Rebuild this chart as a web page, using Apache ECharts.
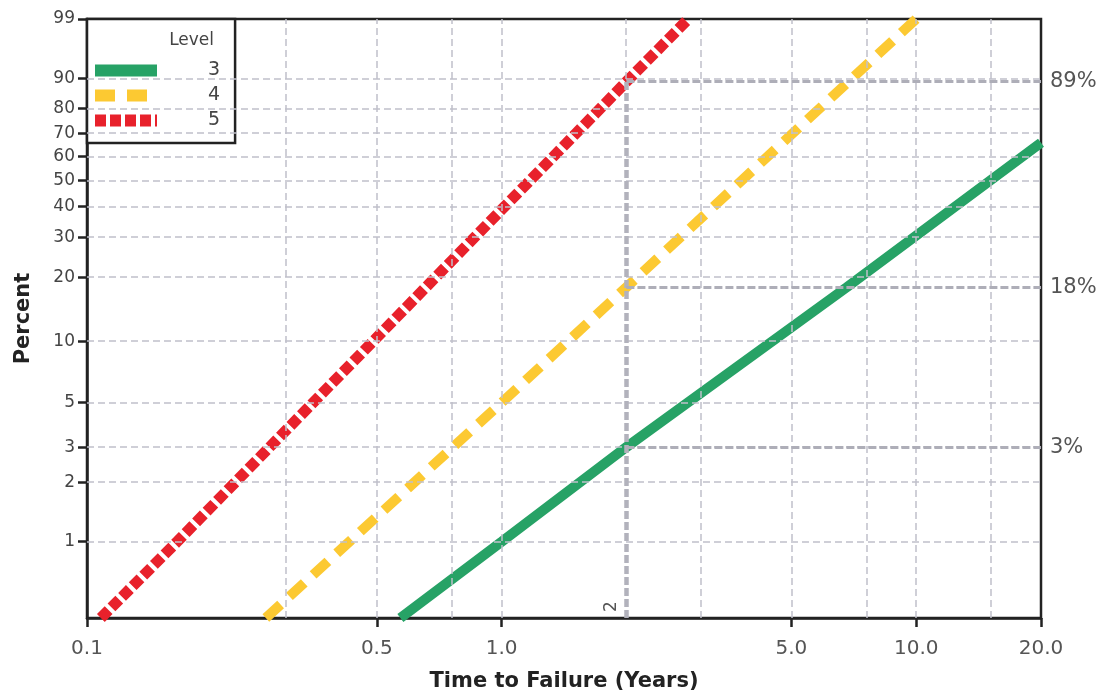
<!DOCTYPE html>
<html>
<head>
<meta charset="utf-8">
<title>Time to Failure by Level</title>
<script src="https://cdn.jsdelivr.net/npm/echarts@6/dist/echarts.min.js"></script>
<style>
  html, body { margin: 0; padding: 0; background: #ffffff; }
  #chart { width: 1108px; height: 692px; }
</style>
</head>
<body>
<div id="chart"></div>
<script>
// Weibull probability plot: failure percent vs. time to failure (years)
const levels = ['3', '4', '5'];
const levelColors = ['#27a266', '#fcc932', '#e8212b'];

const level3Time = [0.57, 1.0, 2.0, 6.8, 20.0];
const level3Pct  = [0.41, 1.0, 3.0, 18.0, 66.0];
const level4Time = [0.27, 1.0, 2.0, 10.0];
const level4Pct  = [0.41, 5.0, 18.0, 99.0];
const level5Time = [0.108, 0.165, 0.49, 2.0, 2.82];
const level5Pct  = [0.41, 1.0, 10.0, 89.0, 99.0];

const xTickTimes  = [0.1, 0.5, 1, 5, 10, 20];
const xTickLabels = ['0.1', '0.5', '1.0', '5.0', '10.0', '20.0'];
const xGridTimes  = [0.3, 0.5, 0.75, 1, 2, 3, 5, 7.5, 10, 15];
const yTickPct    = [1, 2, 3, 5, 10, 20, 30, 40, 50, 60, 70, 80, 90, 99];
const yGridPct    = [1, 2, 3, 5, 10, 20, 30, 40, 50, 60, 70, 80, 90];
const xMin = 0.1, xMax = 20;
const yMinPct = 0.41, yMaxPct = 99;

const refTime = 2;
const refPct = [89, 18, 3];
const refLabels = ['89%', '18%', '3%'];

// Axis transforms: log10 for time, Weibull (ln(-ln(1-F))) for percent
const lx = t => Math.log10(t);
const wy = p => Math.log(-Math.log(1 - p / 100));

function nearestLabel(v, values, labels) {
  let best = 0;
  for (let i = 1; i < values.length; i++) {
    if (Math.abs(values[i] - v) < Math.abs(values[best] - v)) best = i;
  }
  return labels[best];
}

const xTickVals = xTickTimes.map(lx);
const yTickVals = yTickPct.map(wy);
const yTickText = yTickPct.map(String);

const seriesTimes = [level3Time, level4Time, level5Time];
const seriesPcts = [level3Pct, level4Pct, level5Pct];
const lineStyles = [
  { width: 10, type: 'solid' },
  { width: 10, type: [20, 12] },
  { width: 11, type: [11, 4] }
];

const dataSeries = levels.map((name, i) => ({
  name: name,
  type: 'line',
  symbol: 'none',
  showSymbol: false,
  z: 3,
  data: seriesTimes[i].map((t, k) => [lx(t), wy(seriesPcts[i][k])]),
  lineStyle: { color: levelColors[i], width: lineStyles[i].width, type: lineStyles[i].type, cap: 'butt' },
  itemStyle: { color: levelColors[i] }
}));

const gridLineStyle = { color: '#c0c0ca', width: 1.5, type: [7, 4] };

const gridSeries = {
  type: 'line',
  data: [],
  silent: true,
  z: 1,
  markLine: {
    silent: true,
    symbol: ['none', 'none'],
    animation: false,
    label: { show: false },
    lineStyle: gridLineStyle,
    data: xGridTimes.map(t => ({ xAxis: lx(t) }))
      .concat(yGridPct.map(p => ({ yAxis: wy(p) })))
  }
};

const refLineStyle = { color: '#aeaeb8', width: 3, type: [8, 3] };

const refData = [
  [
    {
      coord: [lx(refTime), wy(yMinPct)],
      lineStyle: { color: '#b2b2bc', width: 4.5, type: [8, 3] },
      label: {
        show: true,
        position: 'insideStartTop',
        formatter: String(refTime),
        distance: 6,
        color: '#555555',
        fontFamily: 'DejaVu Sans',
        fontSize: 17
      }
    },
    { coord: [lx(refTime), wy(refPct[0])] }
  ]
].concat(refPct.map((p, i) => [
  {
    coord: [lx(refTime), wy(p)],
    label: {
      show: true,
      position: 'end',
      distance: 9,
      formatter: refLabels[i],
      color: '#555555',
      fontFamily: 'DejaVu Sans',
      fontSize: 21
    }
  },
  { coord: [lx(xMax), wy(p)] }
]));

const refSeries = {
  type: 'line',
  data: [],
  silent: true,
  clip: false,
  z: 2,
  markLine: {
    silent: true,
    symbol: ['none', 'none'],
    animation: false,
    lineStyle: refLineStyle,
    data: refData
  }
};

const axisColor = '#222222';

const option = {
  animation: false,
  backgroundColor: '#ffffff',
  grid: {
    left: 87, right: 67, top: 19, bottom: 74,
    outerBoundsMode: 'none',
    containLabel: false,
    show: true, borderColor: axisColor, borderWidth: 2.5, backgroundColor: 'transparent'
  },
  xAxis: {
    type: 'value',
    min: lx(xMin),
    max: lx(xMax),
    name: 'Time to Failure (Years)',
    nameLocation: 'middle',
    nameGap: 53,
    nameTextStyle: { fontFamily: 'DejaVu Sans', fontWeight: 'bold', fontSize: 21, color: '#222' },
    axisLine: { show: true, onZero: false, lineStyle: { color: axisColor, width: 2.5 } },
    axisTick: { show: true, length: 9, customValues: xTickVals, lineStyle: { color: axisColor, width: 2.5 } },
    axisLabel: {
      customValues: xTickVals,
      margin: 21,
      fontFamily: 'DejaVu Sans',
      fontSize: 20,
      color: '#555555',
      formatter: v => nearestLabel(v, xTickVals, xTickLabels)
    },
    splitLine: { show: false }
  },
  yAxis: {
    type: 'value',
    min: wy(yMinPct),
    max: wy(yMaxPct),
    name: 'Percent',
    nameLocation: 'middle',
    nameGap: 53,
    nameTextStyle: { fontFamily: 'DejaVu Sans', fontWeight: 'bold', fontSize: 21, color: '#222' },
    axisLine: { show: true, onZero: false, lineStyle: { color: axisColor, width: 2.5 } },
    axisTick: { show: true, length: 9, customValues: yTickVals, lineStyle: { color: axisColor, width: 2.5 } },
    axisLabel: {
      customValues: yTickVals,
      margin: 12,
      fontFamily: 'DejaVu Sans',
      fontSize: 17,
      color: '#444444',
      formatter: v => nearestLabel(v, yTickVals, yTickText)
    },
    splitLine: { show: false }
  },
  legend: {
    data: levels,
    orient: 'vertical',
    left: 87,
    top: 19,
    padding: [42, 15, 13, 2],
    itemWidth: 62,
    itemHeight: 14,
    itemGap: 6,
    backgroundColor: '#ffffff',
    borderColor: axisColor,
    borderWidth: 2.5,
    borderRadius: 0,
    selectedMode: false,
    itemStyle: { opacity: 0 },
    lineStyle: { width: 12 },
    textStyle: {
      fontFamily: 'DejaVu Sans',
      fontSize: 19,
      lineHeight: 14,
      color: '#444444',
      padding: [0, 0, 0, 46]
    }
  },
  graphic: [
    {
      type: 'text',
      z: 100,
      x: 214,
      y: 41,
      style: {
        text: 'Level',
        align: 'right',
        verticalAlign: 'middle',
        fontFamily: 'DejaVu Sans',
        fontSize: 17,
        fill: '#444444'
      }
    }
  ],
  series: [gridSeries, refSeries].concat(dataSeries)
};

const chart = echarts.init(document.getElementById('chart'), null, { renderer: 'canvas' });
chart.setOption(option);
</script>
</body>
</html>
